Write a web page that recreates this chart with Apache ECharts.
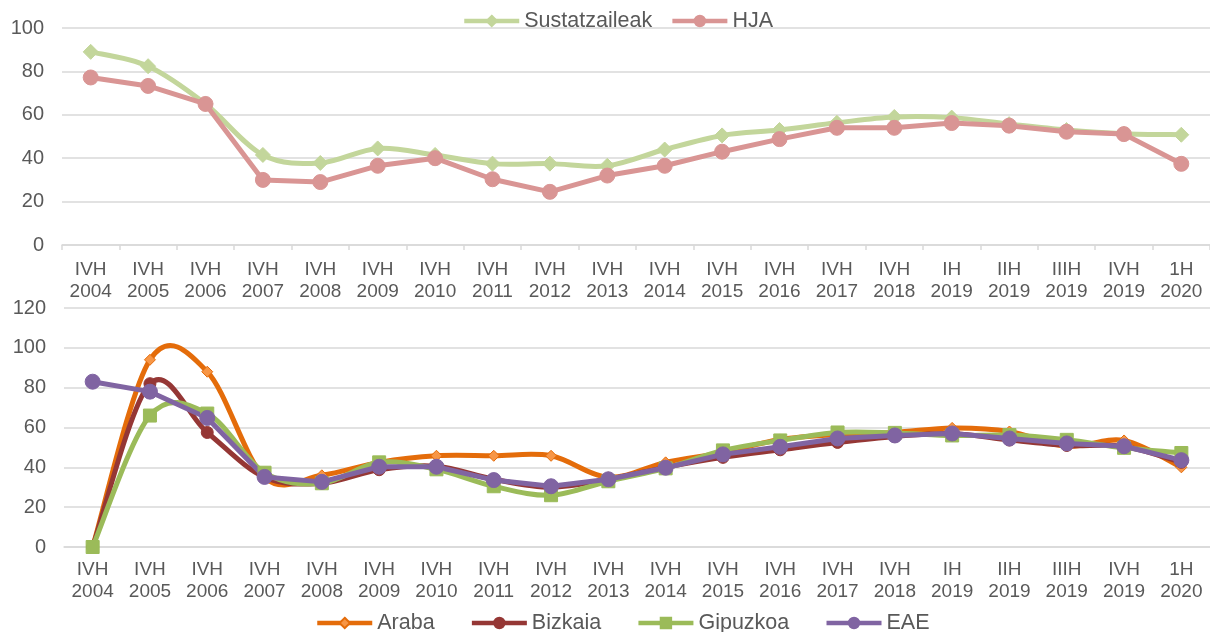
<!DOCTYPE html>
<html>
<head>
<meta charset="utf-8">
<script src="https://cdn.jsdelivr.net/npm/echarts@6/dist/echarts.min.js"></script>
<style>html,body{margin:0;padding:0;background:#fff;}#c{width:1210px;height:632px;}</style>
</head>
<body>
<div id="c"></div>
<script>
const categories = ['IVH\n2004','IVH\n2005','IVH\n2006','IVH\n2007','IVH\n2008','IVH\n2009','IVH\n2010','IVH\n2011','IVH\n2012','IVH\n2013','IVH\n2014','IVH\n2015','IVH\n2016','IVH\n2017','IVH\n2018','IH\n2019','IIH\n2019','IIIH\n2019','IVH\n2019','1H\n2020'];
const sustatzaileak = [89, 82.4, 65, 41.5, 37.8, 44.5, 41.5, 37.5, 37.5, 36.5, 44, 50.5, 53, 56.3, 59, 58.7, 55.7, 53, 51.3, 50.8];
const hja = [77.2, 73.3, 65, 30, 29, 36.5, 40, 30.3, 24.5, 32, 36.5, 43, 48.8, 54, 54, 56.2, 55, 52.2, 51.1, 37.4];
const araba = [0, 94, 88, 35, 36, 42.5, 45.8, 45.8, 45.8, 35, 42.5, 47.5, 54, 56.5, 57.5, 59.8, 58, 50.5, 53.5, 40];
const bizkaia = [0, 82, 57.5, 35, 32, 38.8, 40.5, 34, 30, 34, 40, 45, 48.8, 52.5, 55.5, 57, 53.7, 51, 50.5, 42.5];
const gipuzkoa = [0, 66, 67, 37.3, 32, 42.5, 39, 30.5, 26, 33, 39.5, 48.5, 53.5, 57.5, 57.3, 56, 56.2, 53.8, 49.8, 47.2];
const eae = [83, 78, 64.8, 35.2, 32.7, 40.3, 40.3, 33.6, 30.5, 34, 39.8, 46.5, 50.3, 54.5, 56, 57, 54.5, 52, 50.6, 43.6];

const txt = '#595959';
const grd = '#d9d9d9';
const font = 'Liberation Sans, Arial, sans-serif';
const LW = 5;

function xAxis(gi, ticks, margin) {
  return {
    type: 'category', gridIndex: gi, data: categories, boundaryGap: true,
    axisLine: {show: true, lineStyle: {color: grd, width: 1.5}},
    axisTick: {show: ticks, length: 5, lineStyle: {color: grd, width: 1.5}},
    axisLabel: {color: txt, fontSize: 19, fontFamily: font, lineHeight: 22, margin: margin, interval: 0}
  };
}
function yAxis(gi, max) {
  return {
    type: 'value', gridIndex: gi, min: 0, max: max, interval: 20,
    axisLine: {show: false}, axisTick: {show: false},
    axisLabel: {color: txt, fontSize: 20, fontFamily: font, margin: 18},
    splitLine: {lineStyle: {color: grd, width: 1.5}}
  };
}
// markers (and straight line when not smoothed)
function line(name, data, gi, color, markerColor, symbol, size, hideLine) {
  return {
    name: name, type: 'line', xAxisIndex: gi, yAxisIndex: gi, data: data,
    smooth: false, symbol: symbol, symbolSize: size,
    lineStyle: {color: color, width: LW, opacity: hideLine ? 0 : 1},
    itemStyle: {color: markerColor, borderColor: color, borderWidth: 1},
    emphasis: {disabled: true}, animation: false
  };
}
// smooth curve (Excel-like Catmull-Rom) drawn through the axis coordinates
function curve(values, gi, color) {
  return {
    type: 'custom', xAxisIndex: gi, yAxisIndex: gi, silent: true, animation: false,
    data: [[0, values[0]]],
    renderItem: function (params, api) {
      const pts = values.map(function (v, i) { return api.coord([i, v]); });
      let d = 'M' + pts[0][0] + ' ' + pts[0][1];
      for (let i = 0; i < pts.length - 1; i++) {
        const p0 = pts[Math.max(i - 1, 0)], p1 = pts[i], p2 = pts[i + 1], p3 = pts[Math.min(i + 2, pts.length - 1)];
        const c1 = [p1[0] + (p2[0] - p0[0]) / 6, p1[1] + (p2[1] - p0[1]) / 6];
        const c2 = [p2[0] - (p3[0] - p1[0]) / 6, p2[1] - (p3[1] - p1[1]) / 6];
        d += ' C' + c1[0] + ' ' + c1[1] + ' ' + c2[0] + ' ' + c2[1] + ' ' + p2[0] + ' ' + p2[1];
      }
      return {type: 'path', shape: {pathData: d}, style: {fill: 'none', stroke: color, lineWidth: LW, lineJoin: 'round', lineCap: 'round'}};
    }
  };
}

const chart = echarts.init(document.getElementById('c'), null, {renderer: 'canvas'});
chart.setOption({
  animation: false,
  textStyle: {fontFamily: font},
  grid: [
    {left: 62, right: -4, top: 28, height: 217},
    {left: 64, right: -6, top: 308, height: 239}
  ],
  legend: [
    {data: ['Sustatzaileak', 'HJA'], top: 10, left: 462, padding: 0, itemWidth: 55, itemHeight: 13, itemGap: 18,
     lineStyle: {opacity: 1, width: 4.5},
     textStyle: {color: txt, fontSize: 21.5, fontFamily: font}},
    {data: ['Araba', 'Bizkaia', 'Gipuzkoa', 'EAE'], top: 612, left: 315, padding: 0, itemWidth: 55, itemHeight: 13, itemGap: 35,
     lineStyle: {opacity: 1, width: 4.5},
     textStyle: {color: txt, fontSize: 21.5, fontFamily: font}}
  ],
  xAxis: [xAxis(0, true, 14), xAxis(1, false, 12)],
  yAxis: [yAxis(0, 100), yAxis(1, 120)],
  series: [
    curve(sustatzaileak, 0, '#C3D69B'),
    line('Sustatzaileak', sustatzaileak, 0, '#C3D69B', '#C3D69B', 'diamond', 15, true),
    line('HJA', hja, 0, '#D99594', '#D99594', 'circle', 15, false),
    curve(araba, 1, '#E46C0A'),
    line('Araba', araba, 1, '#E46C0A', '#F79646', 'diamond', 11, true),
    curve(bizkaia, 1, '#953735'),
    line('Bizkaia', bizkaia, 1, '#953735', '#953735', 'circle', 12, true),
    curve(gipuzkoa, 1, '#9BBB59'),
    line('Gipuzkoa', gipuzkoa, 1, '#9BBB59', '#9BBB59', 'rect', 13, true),
    line('EAE', eae, 1, '#8064A2', '#8064A2', 'circle', 15, false)
  ]
});
</script>
</body>
</html>
